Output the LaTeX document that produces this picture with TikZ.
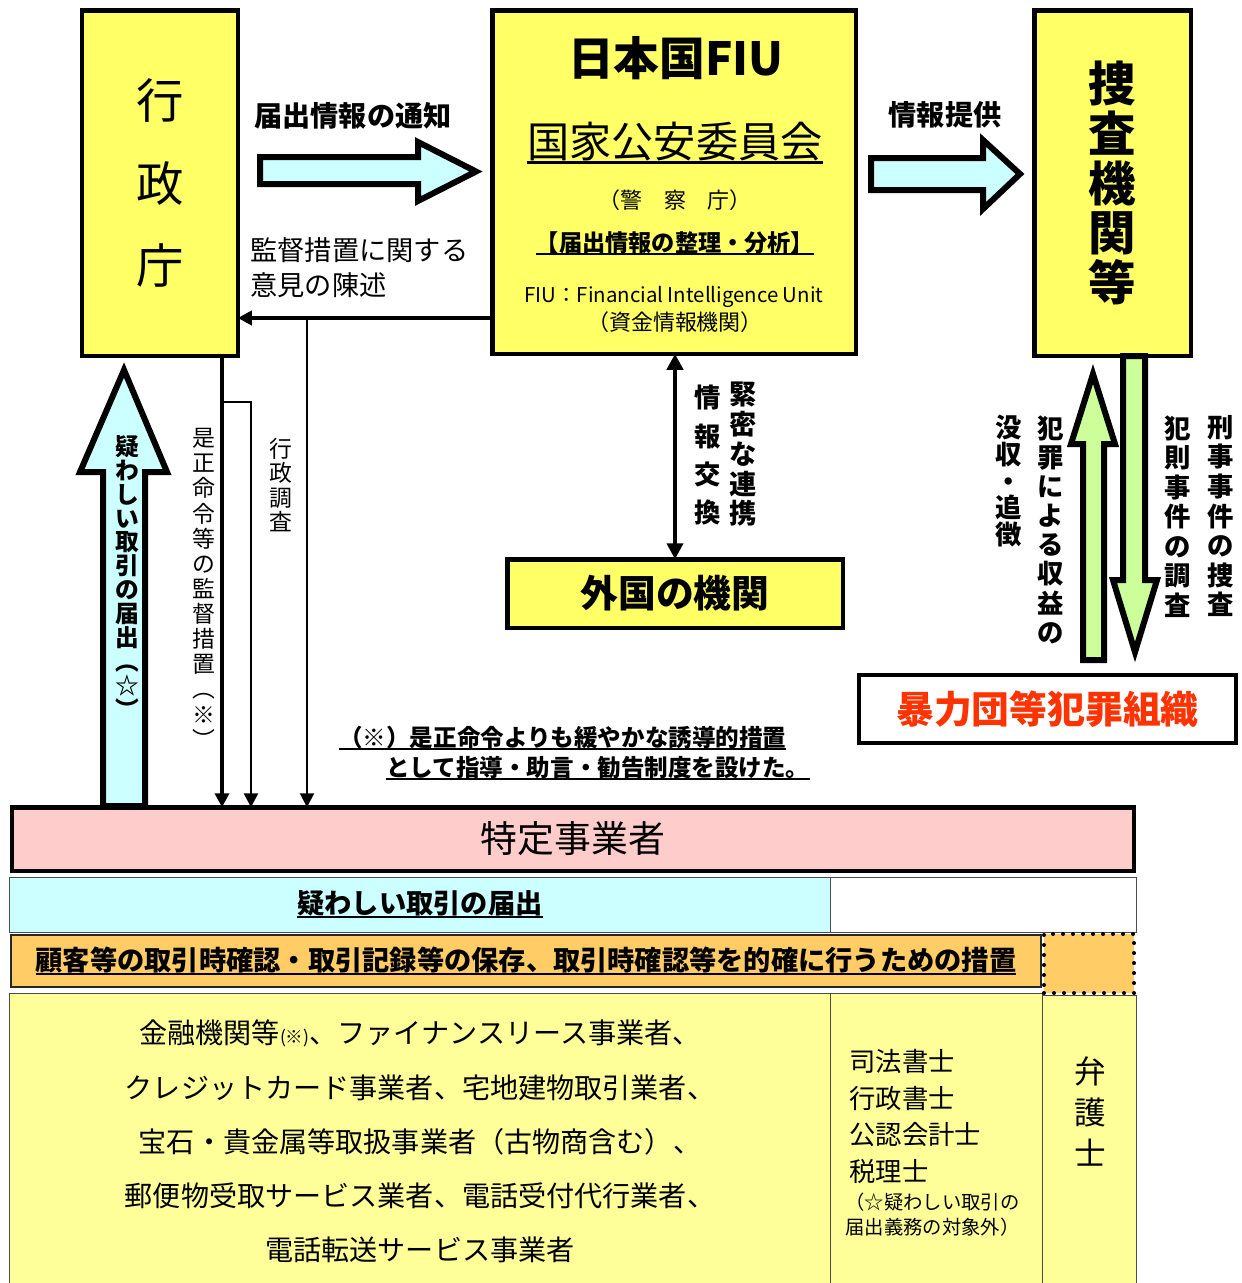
\documentclass[tikz,border=0pt]{standalone}
\usepackage{fontspec}
\setmainfont{Noto Sans CJK JP}
\usetikzlibrary{arrows.meta}
\definecolor{boxyellow}{RGB}{255,255,102}
\definecolor{paleyellow}{RGB}{255,255,153}
\definecolor{palecyan}{RGB}{204,255,255}
\definecolor{palepink}{RGB}{255,204,204}
\definecolor{paleorange}{RGB}{255,204,102}
\definecolor{palegreen}{RGB}{204,255,153}
\definecolor{crimered}{RGB}{255,51,0}
\newcommand{\fsz}[2]{\fontsize{#1}{#2}\selectfont}
\newcommand{\ulbox}[2][1.1pt]{\setbox0\hbox{#2}\rlap{\rule[-0.16em]{\wd0}{#1}}\box0}
\tikzset{
bigbox/.style={draw, line width=0.9mm, fill=boxyellow, inner sep=0pt, outer sep=0pt, align=center},
cell/.style={draw=black!70, line width=0.2mm, inner sep=0pt, outer sep=0pt, align=center},
blockarrow/.style={draw, line width=1.2mm, line join=miter},
txt/.style={inner sep=0pt, anchor=base},
vtxt/.style={inner sep=0pt, anchor=north, align=center},
thinarrow/.style={line width=#1, -{Triangle[length=2.8mm,width=2.8mm]}}
}

\begin{document}
\begin{tikzpicture}[x=0.2mm, y=-0.2mm]
\useasboundingbox (0,0) rectangle (1242,1283);
\node[bigbox, minimum width=31.1mm, minimum height=69.1mm, font=\fsz{27}{47}] (gyosei) at (160,183) {行\\政\\庁};
\node[bigbox, minimum width=72.7mm, minimum height=68.7mm] (fiu) at (674,182) {};
\node[bigbox, minimum width=31.3mm, minimum height=69.1mm, font=\bfseries\fsz{27}{28.3}] (sosa) at (1112.5,183) {捜\\査\\機\\関\\等};
\node[bigbox, minimum width=67.1mm, minimum height=13.7mm, font=\bfseries\fsz{21.5}{24}] (gaikoku) at (675,593.5) {外国の機関};
\node[bigbox, fill=white, line width=0.8mm, minimum width=75.4mm, minimum height=13.6mm, text=crimered, font=\bfseries\fsz{21.5}{24}] (boryoku) at (1047.5,709) {暴力団等犯罪組織};
\node[bigbox, fill=palepink, minimum width=224.3mm, minimum height=12.7mm, font=\fsz{21}{24}] (tokutei) at (573,839) {特定事業者};

\node[cell, fill=palecyan, minimum width=164mm, minimum height=11mm, font=\bfseries\fsz{15.5}{18}] (todokede) at (420,904.5) {\ulbox{疑わしい取引の届出}};
\node[cell, fill=white, minimum width=61.2mm, minimum height=11mm] (blank) at (983,904.5) {};
\node[cell, draw=black!85, fill=paleorange, line width=0.4mm, minimum width=206mm, minimum height=10.4mm, font=\bfseries\fsz{15.5}{18}] (kokyaku) at (526,961) {\ulbox{顧客等の取引時確認・取引記録等の保存、取引時確認等を的確に行うための措置}};
\node[cell, fill=paleyellow, minimum width=164mm, minimum height=59.4mm, font=\fsz{16}{30.8}] (kinyu) at (420,1141.5) {金融機関等{\fsz{10}{10}(※)}、ファイナンスリース事業者、\\クレジットカード事業者、宅地建物取引業者、\\宝石・貴金属等取扱事業者（古物商含む）、\\郵便物受取サービス業者、電話受付代行業者、\\電話転送サービス事業者};
\node[cell, fill=paleyellow, minimum width=42.4mm, minimum height=59.4mm] (shiho) at (936,1141.5) {};
\node[cell, fill=paleyellow, minimum width=18.8mm, minimum height=59mm] (bengo) at (1089,1142.5) {};
\node[cell, draw=black, fill=paleorange, line width=0.8mm, dash pattern=on 0pt off 2mm, line cap=round, minimum width=18mm, minimum height=11.8mm] (dotcell) at (1089,963.5) {};
\node[txt, anchor=north west, align=left, font=\fsz{15}{20.8}] (shihotxt) at (849,1049) {司法書士\\行政書士\\公認会計士\\税理士};
\node[txt, anchor=north west, align=left, font=\fsz{11}{14.2}] (shihonote) at (845,1193) {（☆疑わしい取引の\\届出義務の対象外）};
\node[vtxt, anchor=center, font=\fsz{18}{23.5}] (bengotxt) at (1090,1111.5) {弁\\護\\士};

\filldraw[blockarrow, fill=palecyan] (260,157) -- (418,157) -- (418,142) -- (476,171.5) -- (418,201) -- (418,184) -- (260,184) -- cycle;
\filldraw[blockarrow, fill=palecyan] (871,158) -- (983,158) -- (983,140) -- (1020,174) -- (983,209) -- (983,190) -- (871,190) -- cycle;
\filldraw[blockarrow, fill=palecyan] (103,806) -- (103,472) -- (80,472) -- (124,370) -- (167,472) -- (145,472) -- (145,806) -- cycle;
\filldraw[blockarrow, fill=palegreen] (1083,660) -- (1083,444) -- (1071,444) -- (1093,374) -- (1115,444) -- (1104,444) -- (1104,660) -- cycle;
\filldraw[blockarrow, fill=palegreen] (1123,356) -- (1123,580) -- (1113,580) -- (1135,652) -- (1157,580) -- (1145,580) -- (1145,356) -- cycle;

\coordinate (kansa) at (307,318);
\coordinate (zesei) at (222,358);
\coordinate (shido) at (251,402);
\draw[thinarrow=0.7mm] (fiu.west |- kansa) -- (gyosei.east |- kansa);
\draw[thinarrow=0.4mm] (kansa) -- (kansa |- tokutei.north);
\draw[thinarrow=0.9mm] (zesei |- gyosei.south) -- (zesei |- tokutei.north);
\draw[thinarrow=0.5mm] (zesei |- shido) -- (shido) -- (shido |- tokutei.north);
\draw[{Triangle[length=3.2mm,width=3.2mm]}-{Triangle[length=3.2mm,width=3.2mm]}, line width=0.8mm] (gaikoku.north |- fiu.south) -- (gaikoku.north);

\node[txt, font=\bfseries\fsz{16}{19}] (tsuchi) at (353,126) {届出情報の通知};
\node[txt, anchor=north west, align=left, font=\fsz{15.5}{19.8}] (iken) at (250,237) {監督措置に関する\\意見の陳述};
\node[txt, font=\bfseries\fsz{16}{19}] (teikyo) at (945,125) {情報提供};

\node[txt, font=\bfseries\fsz{26}{30}] (fiutitle) at (676,75) {日本国FIU};
\node[txt, font=\fsz{24}{28}] (kokka) at (675,157) {\ulbox[1.7pt]{国家公安委員会}};
\node[txt, font=\fsz{12.5}{15}] (keisatsu) at (675,208) {（警　察　庁）};
\node[txt, font=\bfseries\fsz{13.2}{15}] (bunseki) at (675,251) {\ulbox{【届出情報の整理・分析】}};
\node[txt, font=\fsz{11.6}{15}] (fiuname) at (674,302) {FIU：Financial Intelligence Unit};
\node[txt, font=\fsz{12.5}{15}] (shikin) at (675,330) {（資金情報機関）};

\node[vtxt, font=\bfseries\fsz{13.5}{13.6}] (utagai) at (127,435) {疑\\わ\\し\\い\\取\\引\\の\\届\\出\\︵\\☆\\︶};
\node[vtxt, font=\fsz{13}{14.3}] (zeseitxt) at (204,428) {是\\正\\命\\令\\等\\の\\監\\督\\措\\置\\︵\\※\\︶};
\node[vtxt, font=\fsz{13}{13.8}] (chosa) at (281,438) {行\\政\\調\\査};
\node[vtxt, font=\bfseries\fsz{15}{21.7}] (kokan) at (708,385) {情\\報\\交\\換};
\node[vtxt, font=\bfseries\fsz{15.5}{16.9}] (renkei) at (743,382) {緊\\密\\な\\連\\携};
\node[vtxt, font=\bfseries\fsz{15}{16.8}] (keiji) at (1221,415) {刑\\事\\事\\件\\の\\捜\\査};
\node[vtxt, font=\bfseries\fsz{15}{16.8}] (hansoku) at (1178,415) {犯\\則\\事\\件\\の\\調\\査};
\node[vtxt, font=\bfseries\fsz{15}{16.6}] (shueki) at (1051,415) {犯\\罪\\に\\よ\\る\\収\\益\\の};
\node[vtxt, font=\bfseries\fsz{15}{15.2}] (botsu) at (1009,415) {没\\収\\・\\追\\徴};

\node[txt, anchor=base west, font=\bfseries\fsz{13.4}{16}] (note1) at (339,746) {\ulbox{（※）是正命令よりも緩やかな誘導的措置}};
\node[txt, anchor=base west, font=\bfseries\fsz{13.4}{16}] (note2) at (386,776) {\ulbox{として指導・助言・勧告制度を設けた。}};
\end{tikzpicture}
\end{document}
